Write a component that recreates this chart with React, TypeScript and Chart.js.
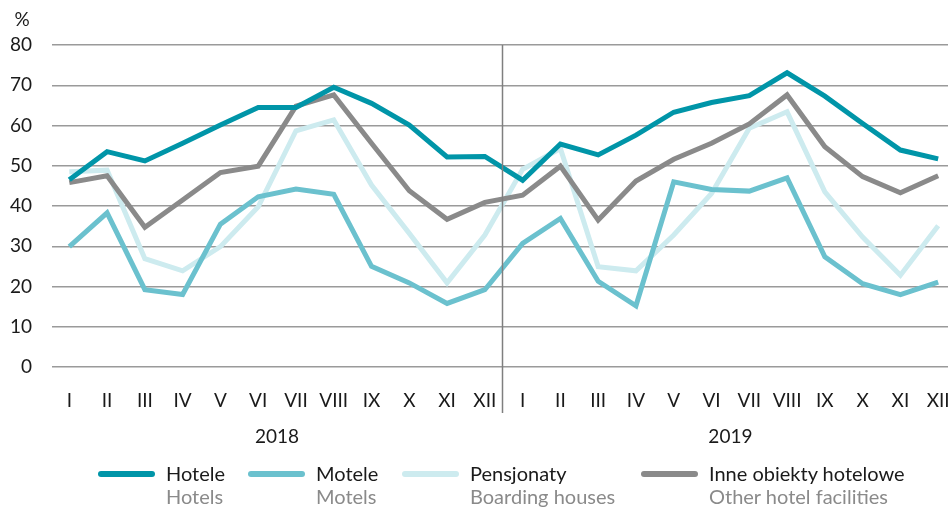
import React, { useEffect, useRef } from "react";
import { Chart, registerables } from "chart.js";

Chart.register(...registerables);

const months = ["I", "II", "III", "IV", "V", "VI", "VII", "VIII", "IX", "X", "XI", "XII"];
const years = ["2018", "2019"];
const categories = [...months, ...months];

const hotele = [46.5, 53.5, 51.2, 55.6, 60.1, 64.5, 64.5, 69.5, 65.5, 60.1, 52.2, 52.3,
  46.4, 55.4, 52.7, 57.6, 63.3, 65.7, 67.4, 73.1, 67.3, 60.5, 53.9, 51.7];
const motele = [29.9, 38.3, 19.2, 18.0, 35.5, 42.3, 44.2, 42.9, 25.0, 20.9, 15.8, 19.2,
  30.7, 36.9, 21.3, 15.2, 46.0, 44.1, 43.7, 47.0, 27.4, 20.7, 18.0, 21.1];
const pensjonaty = [48.5, 48.9, 26.9, 23.9, 29.9, 39.8, 58.7, 61.4, 45.2, 33.2, 20.9, 32.8,
  49.1, 54.3, 24.9, 23.9, 32.8, 43.1, 59.3, 63.4, 43.5, 32.3, 22.8, 35.1];
const inne = [45.8, 47.5, 34.7, 41.5, 48.3, 49.9, 64.8, 67.6, 55.6, 43.8, 36.7, 40.9,
  42.7, 49.9, 36.5, 46.2, 51.6, 55.6, 60.4, 67.6, 54.7, 47.3, 43.3, 47.5];

const seriesNamesPl = ["Hotele", "Motele", "Pensjonaty", "Inne obiekty hotelowe"];
const seriesNamesEn = ["Hotels", "Motels", "Boarding houses", "Other hotel facilities"];
const seriesValues = [hotele, motele, pensjonaty, inne];
const seriesColors = ["#0095A8", "#6BC1CE", "#CDEBEF", "#8A8A8A"];
const seriesOrder = [0, 2, 3, 1];

const yMin = 0;
const yMax = 80;
const yStep = 10;
const unitLabel = "%";

const FONT = "Lato, 'Open Sans', sans-serif";
const legendLefts = [98, 248, 402, 641];

export default function App() {
  const canvasRef = useRef<HTMLCanvasElement | null>(null);

  useEffect(() => {
    const canvas = canvasRef.current;
    if (!canvas) return;

    const decorPlugin = {
      id: "decor",
      afterDraw(chart: any) {
        const { ctx, scales, chartArea } = chart;
        const xs = scales.x;
        ctx.save();
        const dx = Math.round(xs.getPixelForValue(11.45)) + 0.5;
        ctx.strokeStyle = "#7f7f7f";
        ctx.lineWidth = 1.5;
        ctx.beginPath();
        ctx.moveTo(dx, chartArea.top);
        ctx.lineTo(dx, 413);
        ctx.stroke();
        ctx.fillStyle = "#1a1a1a";
        ctx.font = `19px ${FONT}`;
        ctx.textAlign = "center";
        ctx.textBaseline = "middle";
        years.forEach((yr, i) => {
          ctx.fillText(yr, xs.getPixelForValue(i * 12 + 5.5), 437);
        });
        ctx.fillText(unitLabel, 22, 20);
        ctx.restore();
      },
    };

    const chart = new Chart(canvas, {
      type: "line",
      data: {
        datasets: seriesValues.map((vals, i) => ({
          label: seriesNamesPl[i],
          data: vals.map((v, j) => ({ x: j, y: v })),
          borderColor: seriesColors[i],
          backgroundColor: seriesColors[i],
          borderWidth: 5,
          pointRadius: 0,
          tension: 0,
          borderJoinStyle: "miter" as const,
          borderCapStyle: "butt" as const,
          order: seriesOrder[i],
        })),
      },
      options: {
        animation: false,
        responsive: false,
        maintainAspectRatio: false,
        layout: { padding: { top: 45, left: 0, right: 0, bottom: 0 } },
        plugins: { legend: { display: false }, tooltip: { enabled: false } },
        scales: {
          x: {
            type: "linear",
            min: -0.458,
            max: 23.26,
            afterBuildTicks(scale: any) {
              scale.ticks = categories.map((_, i) => ({ value: i }));
            },
            afterFit(scale: any) {
              scale.height = 507 - 367;
              scale.paddingLeft = 0;
              scale.paddingRight = 0;
            },
            grid: { display: false, drawTicks: false },
            border: { display: false },
            ticks: {
              autoSkip: false,
              maxRotation: 0,
              padding: 22,
              color: "#1a1a1a",
              font: { family: FONT, size: 19 },
              callback: (v: any) => categories[Number(v)] ?? "",
            },
          },
          y: {
            min: yMin,
            max: yMax,
            afterFit(scale: any) {
              scale.width = 52;
              scale.paddingTop = 0;
              scale.paddingBottom = 0;
            },
            ticks: {
              stepSize: yStep,
              padding: 20,
              color: "#1a1a1a",
              font: { family: FONT, size: 19 },
            },
            grid: { color: "#9a9a9a", lineWidth: 1.5, drawTicks: false },
            border: { display: false },
          },
        },
      },
      plugins: [decorPlugin],
    });

    return () => chart.destroy();
  }, []);

  return (
    <div style={{ position: "fixed", left: 0, top: 0, width: 948, height: 507, background: "#fff", overflow: "hidden" }}>
      <canvas ref={canvasRef} width={948} height={507} style={{ position: "absolute", left: 0, top: 0 }} />
      {seriesNamesPl.map((name, i) => (
        <div key={name} style={{ position: "absolute", left: legendLefts[i], top: 462, fontFamily: FONT, fontSize: 20, lineHeight: "23px" }}>
          <div style={{ position: "absolute", left: 0, top: 9, width: 57, height: 6, borderRadius: 3, background: seriesColors[i] }} />
          <div style={{ marginLeft: 68, color: "#1a1a1a", whiteSpace: "nowrap" }}>{name}</div>
          <div style={{ marginLeft: 68, color: "#8a8a8a", whiteSpace: "nowrap" }}>{seriesNamesEn[i]}</div>
        </div>
      ))}
    </div>
  );
}
